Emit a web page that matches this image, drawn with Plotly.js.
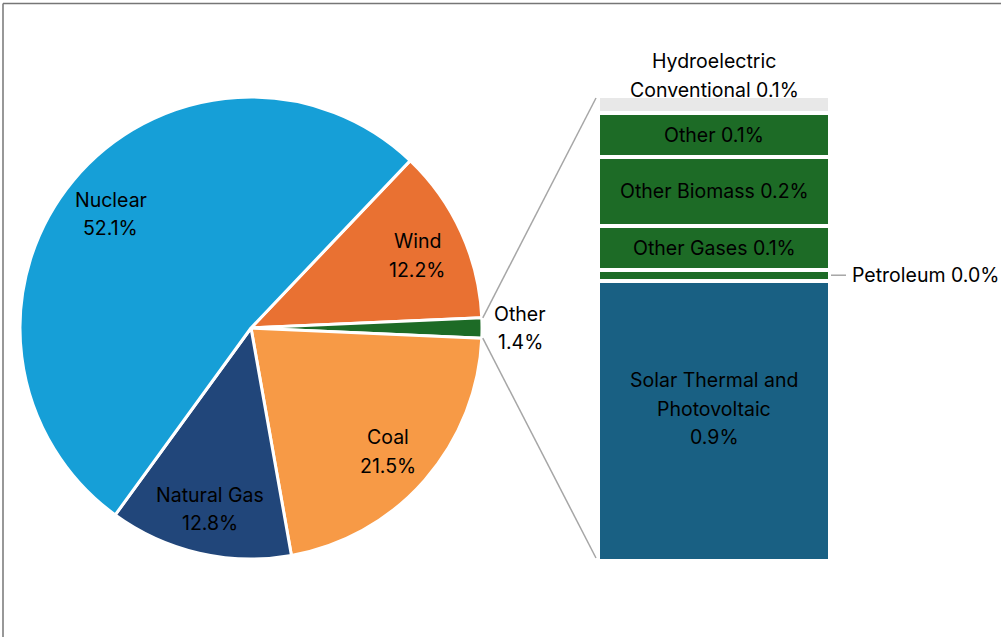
<!DOCTYPE html>
<html>
<head>
<meta charset="utf-8">
<script src="https://cdn.plot.ly/plotly-3.0.1.min.js"></script>
<style>html,body{margin:0;padding:0;background:#fff;}#chart{width:1001px;height:637px;}</style>
</head>
<body>
<div id="chart"></div>
<script>
// ---- Data ----
const pieLabels = ['Wind', 'Other', 'Coal', 'Natural Gas', 'Nuclear'];
const pieValues = [12.2, 1.4, 21.5, 12.8, 52.1];

// Breakdown of "Other" (bottom to top of the stacked bar)
const barLabels = ['Solar Thermal and\nPhotovoltaic', 'Petroleum', 'Other Gases', 'Other Biomass', 'Other', 'Hydroelectric\nConventional'];
const barValues = [0.86, 0.034, 0.135, 0.21, 0.135, 0.053];

// ---- Styles ----
const pieColors = ['#E97132', '#1D6B26', '#F79A46', '#21467A', '#169FD7'];
const barColors = ['#196083', '#1D6B26', '#1D6B26', '#1D6B26', '#1D6B26', '#E8E8E8'];
const barSep = ['\n', ' ', ' ', ' ', ' ', ' '];
const FONT = 'Inter, "Open Sans", Arial, sans-serif';
const FS = 19.5;
const LINE = 28.5;

// ---- Geometry ----
const W = 1001, H = 637;
const pieCx = 251, pieCy = 328, pieR = 231;
const barL = 598, barR = 830, barT = 96, barB = 561;
const px2x = p => p / W;
const py2y = p => 1 - p / H;

const pieTotal = pieValues.reduce((a, b) => a + b, 0);
const otherIdx = pieLabels.indexOf('Other');
let before = 0;
for (let i = 0; i < otherIdx; i++) before += pieValues[i];
const rotation = 90 - (before + pieValues[otherIdx] / 2) * 360 / pieTotal;

const annotations = [];
function addLines(lines, base) {
  const n = lines.length;
  lines.forEach((ln, k) => {
    const shift = ((n - 1) / 2 - k) * LINE + (base.yshiftBase || 0);
    const a = Object.assign({}, base, {
      text: ln, showarrow: false, yshift: shift,
      font: {family: FONT, size: FS, color: '#000'}
    });
    delete a.yshiftBase;
    annotations.push(a);
  });
}

// pie labels
let cum = 0;
const rad = d => d * Math.PI / 180;
pieValues.forEach((v, i) => {
  const mid = rotation + (cum + v / 2) * 360 / pieTotal;
  cum += v;
  const outside = v / pieTotal < 0.03;
  const f = outside ? 1.165 : 0.79;
  const px = pieCx + f * pieR * Math.sin(rad(mid));
  const py = pieCy - f * pieR * Math.cos(rad(mid));
  addLines([pieLabels[i], v.toFixed(1) + '%'], {
    xref: 'paper', yref: 'paper', x: px2x(px), y: py2y(py),
    xanchor: 'center', yanchor: 'middle', yshiftBase: outside ? 0 : -3
  });
});

// bar labels
const barTotal = barValues.reduce((a, b) => a + b, 0);
const yToPx = v => barB - v / barTotal * (barB - barT);
let bcum = 0;
const shapes = [];
barValues.forEach((v, i) => {
  const mid = bcum + v / 2;
  bcum += v;
  const txt = barLabels[i] + barSep[i] + v.toFixed(1) + '%';
  const lines = txt.split('\n');
  if (i === barValues.length - 1) {
    // top segment: label above the bar
    addLines(lines, {xref: 'x', yref: 'y', x: 0, y: barTotal,
      xanchor: 'center', yanchor: 'middle', yshiftBase: 6 + LINE * (lines.length - 1) / 2});
  } else if (v / barTotal < 0.04) {
    // thin segment: label to the right with a leader line
    const py = yToPx(mid);
    addLines(lines, {xref: 'x', yref: 'y', x: 0.5, y: mid,
      xanchor: 'left', yanchor: 'middle', xshift: 20});
    shapes.push({type: 'line', xref: 'paper', yref: 'paper',
      x0: px2x(barR + 1), x1: px2x(barR + 16), y0: py2y(py), y1: py2y(py),
      line: {color: '#A6A6A6', width: 1.5}});
  } else {
    addLines(lines, {xref: 'x', yref: 'y', x: 0, y: mid,
      xanchor: 'center', yanchor: 'middle', yshiftBase: lines.length > 1 ? 12 : 0});
  }
});

// connector lines from the "Other" slice to the bar
const a0 = rotation + before * 360 / pieTotal;
const a1 = a0 + pieValues[otherIdx] * 360 / pieTotal;
const p0 = [pieCx + pieR * Math.sin(rad(a0)), pieCy - pieR * Math.cos(rad(a0))];
const p1 = [pieCx + pieR * Math.sin(rad(a1)), pieCy - pieR * Math.cos(rad(a1))];
shapes.push({type: 'line', xref: 'paper', yref: 'paper',
  x0: px2x(p0[0] + 1), y0: py2y(p0[1]), x1: px2x(barL - 2), y1: py2y(barT + 2),
  line: {color: '#A6A6A6', width: 1.5}});
shapes.push({type: 'line', xref: 'paper', yref: 'paper',
  x0: px2x(p1[0] + 1), y0: py2y(p1[1]), x1: px2x(barL - 2), y1: py2y(barB - 3),
  line: {color: '#A6A6A6', width: 1.5}});

// outer border (top and left visible)
shapes.push({type: 'line', xref: 'paper', yref: 'paper', x0: px2x(3), x1: 1, y0: py2y(3.5), y1: py2y(3.5),
  line: {color: '#767676', width: 1.5}});
shapes.push({type: 'line', xref: 'paper', yref: 'paper', x0: px2x(3), x1: px2x(3), y0: py2y(3.5), y1: 0,
  line: {color: '#767676', width: 1.5}});

// ---- Traces ----
const traces = [{
  type: 'pie',
  labels: pieLabels, values: pieValues,
  sort: false, direction: 'clockwise', rotation: rotation,
  textinfo: 'none', hoverinfo: 'label+percent',
  marker: {colors: pieColors, line: {color: '#ffffff', width: 3}},
  domain: {x: [px2x(pieCx - pieR), px2x(pieCx + pieR)], y: [py2y(pieCy + pieR), py2y(pieCy - pieR)]},
  showlegend: false
}];
barValues.forEach((v, i) => {
  traces.push({
    type: 'bar', x: [0], y: [v], width: 1,
    name: barLabels[i].replace('\n', ' '),
    marker: {color: barColors[i], line: {color: '#ffffff', width: 4}},
    hoverinfo: 'name+y', showlegend: false
  });
});

const layout = {
  width: W, height: H,
  margin: {l: 0, r: 0, t: 0, b: 0},
  paper_bgcolor: '#ffffff', plot_bgcolor: 'rgba(0,0,0,0)',
  barmode: 'stack', showlegend: false,
  xaxis: {domain: [px2x(barL), px2x(barR)], range: [-0.5, 0.5], visible: false, fixedrange: true},
  yaxis: {domain: [py2y(barB), py2y(barT)], range: [0, barTotal], visible: false, fixedrange: true},
  annotations: annotations,
  shapes: shapes,
  font: {family: FONT, size: FS, color: '#000'}
};

Plotly.newPlot('chart', traces, layout, {displayModeBar: false, staticPlot: true});
</script>
</body>
</html>
